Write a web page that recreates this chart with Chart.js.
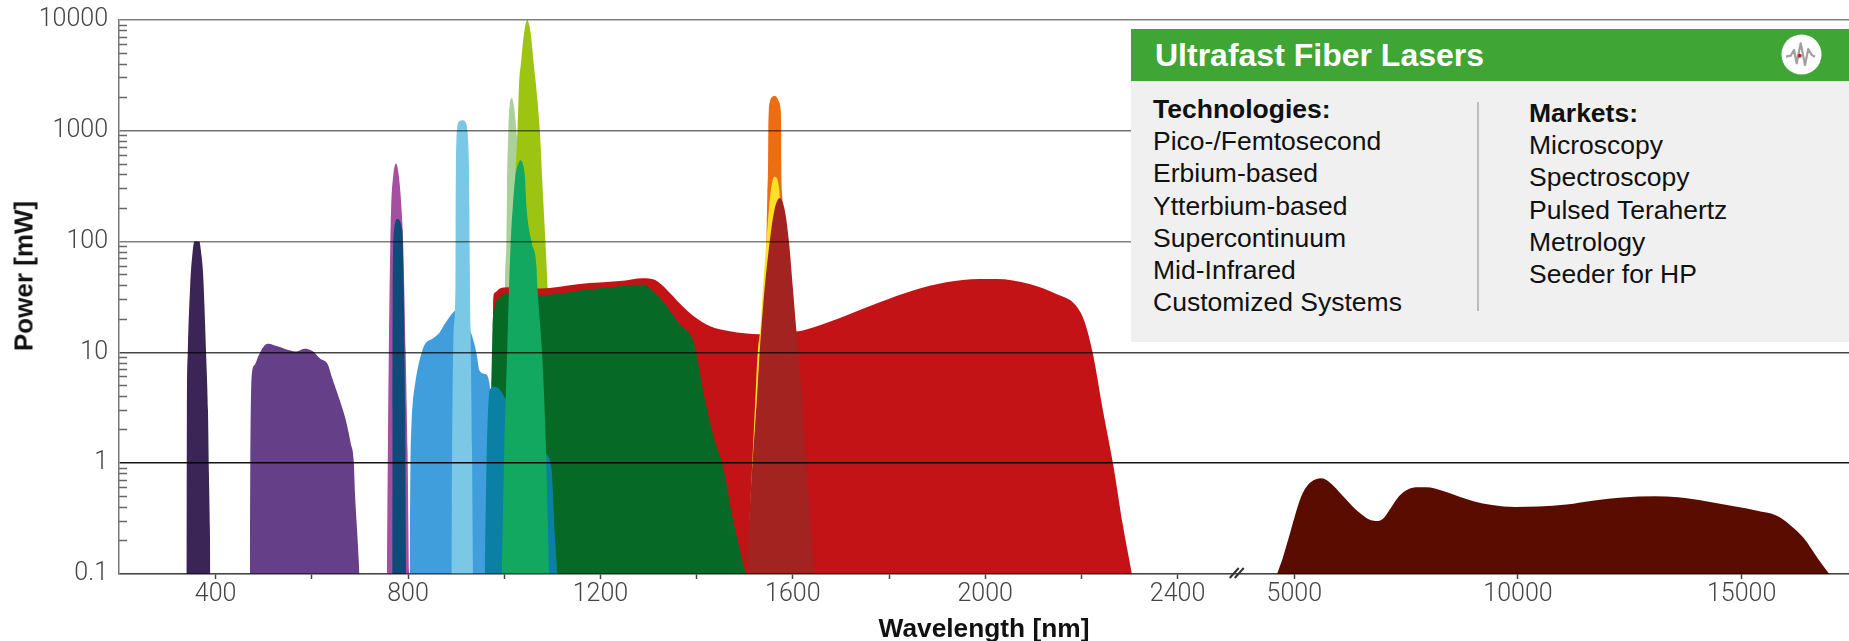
<!DOCTYPE html>
<html>
<head>
<meta charset="utf-8">
<title>Ultrafast Fiber Lasers</title>
<script src="https://cdn.jsdelivr.net/npm/chart.js@4"></script>
<style>
  html, body { margin: 0; padding: 0; background: #fff; overflow: hidden; }
  body { width: 1849px; height: 641px; position: relative; font-family: "Liberation Sans", Arial, sans-serif; }
  canvas { position: absolute; left: 0; top: 0; }
  #yTitle { position: absolute; left: 24px; top: 276px; transform: translate(-50%, -50%) rotate(-90deg);
    font-size: 26px; font-weight: bold; color: #111; white-space: nowrap; }
  #box { position: absolute; left: 1131px; top: 29px; width: 718px; height: 313px; background: #f0f0f0; }
  #head { position: absolute; left: 0; top: 0; width: 100%; height: 52px; background: #3fa535; }
  #head span { position: absolute; left: 24px; top: 8px; font-size: 32px; line-height: 36px; font-weight: bold; color: #fff; white-space: nowrap; }
  #icon { position: absolute; left: 650px; top: 5px; width: 41px; height: 41px; }
  .col { position: absolute; font-size: 26.5px; line-height: 32.2px; color: #111; white-space: nowrap; }
  .col b { display: block; }
  #divider { position: absolute; left: 346px; top: 73px; width: 1.5px; height: 209px; background: #bdbdbd; }
</style>
</head>
<body>
<canvas id="chart" width="1849" height="641"></canvas>
<div id="yTitle">Power [mW]</div>
<div id="box">
  <div id="head">
    <span>Ultrafast Fiber Lasers</span>
    <svg id="icon" viewBox="0 0 41 41">
      <circle cx="20.5" cy="20.5" r="20" fill="#fff"/>
      <polyline points="5,22.7 9.7,21.7 13,16 15.7,29.3 19.7,9.3 24,31 27.3,15 30.7,21 34,22.7" fill="none" stroke="#a0a0a0" stroke-width="2.2" stroke-linejoin="round"/>
      <circle cx="18.7" cy="21.7" r="2" fill="#d2143a"/>
    </svg>
  </div>
  <div class="col" id="techCol" style="left:22px;top:64px"></div>
  <div id="divider"></div>
  <div class="col" id="marketCol" style="left:398px;top:68px"></div>
</div>
<script>
// each band is [wavelength nm, power mW]
const uvBand = [[339,0.1],[340,3],[342,10],[347,40],[352,80],[356,100],[366,100],[370,78],[374,50],[380,10],[384,3],[386,0.8],[388,0.25],[389,0.1]];
const visibleBand = [[471,0.1],[472,1],[475,6.2],[481,7.7],[490,9.5],[502,11.6],[510,12],[527,11.4],[543,10.8],[568,10.2],[584,10.8],[601,10.3],[617,8.8],[633,7.8],[642,5.9],[658,3.7],[670,2.5],[681,1.5],[687,1.05],[690,0.5],[694,0.25],[699,0.1]];
const magentaBand = [[756,0.1],[758,1.29],[760,10],[763,92],[765,212],[769,385],[775,506],[781,385],[786,212],[790,92],[795,10],[799,1.29],[802,0.1]];
const navyBand = [[767,0.1],[767.5,3.03],[768,38.8],[771,127],[777,160],[788,127],[791,38.8],[794,3.03],[796,0.1]];
const blueBand = [[803.5,0.1],[804,0.3],[805,1],[807,2.2],[810,3.6],[814,5],[821,7.5],[830,10.5],[834.7,11.8],[852,13.4],[866,15.2],[876,18],[895,23.3],[905,25],[932,14.6],[942,10],[949,6.8],[959.5,6.4],[970,5],[975,0.1]];
const lightBlueBand = [[890,0.1],[891.5,1.29],[895,16.6],[898.5,38.8],[899,200],[899.5,497],[900.5,800],[902,1050],[907,1220],[913,1245],[919,1200],[923,1050],[925,800],[926.5,497],[927.5,200],[928,92],[930,16.6],[933,1.29],[935,0.1]];
const tealBand = [[959.5,0.1],[963,0.92],[966.4,3.03],[970,4.63],[980,4.9],[990.6,4.63],[1001,3.9],[1087.7,1.2],[1098,0.92],[1105,0.236],[1110.6,0.1]];
const limeBand = [[1004.5,0.1],[1013,38.8],[1017,100],[1022,325],[1027.5,1000],[1031,2723],[1035,4166],[1039,6370],[1044,9000],[1048,10000],[1052,9000],[1057,6370],[1061,4166],[1065.5,2723],[1074,1000],[1079.5,325],[1085.6,100],[1090,38.8],[1095,7.08],[1102,0.1]];
const paleGreenBand = [[997.6,0.1],[1001.7,38.8],[1004.5,100],[1005.9,325],[1008.6,1000],[1010.7,1635],[1015.6,1972],[1020.4,1635],[1025.3,1000],[1032,325],[1042,0.1]];
const greenBand = [[994.8,0.1],[1000,1.29],[1006,10],[1010,38.8],[1013.5,100],[1018,212],[1023,385],[1028.8,500],[1033.7,541],[1039,497],[1043,385],[1046,212],[1056.5,100],[1067,59.3],[1069,38.8],[1078.6,10],[1087,1.29],[1091,0.236],[1093,0.1]];
const redBand = [[975,0.1],[976,5],[977,30],[980,34.6],[990.6,37.8],[1008,38.8],[1074,37.8],[1157,41.5],[1240,44],[1288.7,46.8],[1313,45.2],[1337,37.2],[1365,27.6],[1392.7,21.4],[1427,17.3],[1469,15.5],[1531,14.6],[1607,15.4],[1642,16.8],[1711,21.5],[1780.6,28.3],[1850,36.2],[1919,43],[1988,46],[2023,46],[2092,41.5],[2148,33.7],[2189,26.4],[2207,18.7],[2224,9.65],[2245,2.96],[2266,0.98],[2286,0.28],[2305,0.1]];
const darkGreenBand = [[960,0.1],[965,1.3],[970,3.5],[973,5],[975.6,16.6],[980,25.4],[990.6,31.3],[1008,34.6],[1074,32.8],[1157,36.2],[1240,39.6],[1288.7,41],[1313,34.6],[1337,26.4],[1365,18],[1392.7,12.8],[1399,10],[1413,4.63],[1434,1.82],[1455,0.92],[1476,0.305],[1502,0.1]];
const orangeBand = [[1525,0.1],[1545,100],[1547,273],[1548.5,497],[1549,1000],[1550,1500],[1552,1800],[1557,2020],[1562,2058],[1567,2000],[1572,1800],[1575,1500],[1575.8,1000],[1576,497],[1577.6,273],[1583,100],[1610,0.1]];
const yellowBand = [[1505,0.1],[1523,4.63],[1527,10],[1532.6,16.6],[1538,38.8],[1545,100],[1553.5,273],[1562,385],[1570.7,325],[1576,178],[1583,100],[1620,0.1]];
const brownBand = [[1503,0.1],[1516,0.98],[1525.6,4],[1531,10],[1536.6,21.4],[1541.6,38.8],[1552,100],[1562,195],[1572.8,248],[1583,195],[1592,100],[1600,38.8],[1607,16.6],[1612,10],[1628,1],[1645,0.1]];
const midIrBand = [[4615,0.1],[4740,0.139],[4896,0.227],[5000,0.32],[5156,0.503],[5312,0.641],[5468,0.712],[5603,0.732],[5728,0.702],[5884,0.62],[6092,0.503],[6300,0.409],[6508,0.344],[6716,0.305],[6841,0.301],[6976,0.314],[7132,0.381],[7340,0.503],[7548,0.582],[7756,0.607],[7964,0.607],[8276,0.571],[8588,0.517],[9004,0.454],[9420,0.42],[9940,0.403],[10460,0.406],[11084,0.423],[11708,0.46],[12332,0.49],[13060,0.503],[13580,0.493],[14204,0.454],[14828,0.409],[15348,0.373],[15764,0.339],[16076,0.279],[16388,0.211],[16700,0.139],[16960,0.1]];

const yTicks = [0.1, 1, 10, 100, 1000, 10000];
const yMinorTicks = [0.2,0.3,0.4,0.5,0.6,0.7,0.8,0.9,2,3,4,5,6,7,8,9,20,30,40,50,60,70,80,90,200,300,400,500,600,700,800,900,2000,3000,4000,5000,6000,7000,8000,9000];
const gridColors = ["rgba(0,0,0,0.5)", "rgba(0,0,0,0.92)", "rgba(0,0,0,0.72)", "rgba(0,0,0,0.5)", "rgba(0,0,0,0.55)", "rgba(0,0,0,0.5)"];
const nearTicks = [400, 600, 800, 1000, 1200, 1400, 1600, 1800, 2000, 2200, 2400];
const nearLabels = [400, 800, 1200, 1600, 2000, 2400];
const farTicks = [5000, 10000, 15000];
const axisBreakNm = 2523;

const technologies = ["Pico-/Femtosecond", "Erbium-based", "Ytterbium-based", "Supercontinuum", "Mid-Infrared", "Customized Systems"];
const markets = ["Microscopy", "Spectroscopy", "Pulsed Terahertz", "Metrology", "Seeder for HP"];

function fillCol(id, title, rows) {
  document.getElementById(id).innerHTML = "<b>" + title + "</b>" + rows.join("<br>");
}
fillCol("techCol", "Technologies:", technologies);
fillCol("marketCol", "Markets:", markets);

function band(data, color, xAxisID) {
  return {
    data: data,
    xAxisID: xAxisID || "x",
    yAxisID: "y",
    backgroundColor: color,
    borderWidth: 0,
    pointRadius: 0,
    fill: "start",
    cubicInterpolationMode: "monotone"
  };
}

const tickFont = { family: "Roboto", size: 25, weight: "300" };

// the // mark on the wavelength axis
const axisBreak = {
  id: "axisBreak",
  afterDraw(chart) {
    const ctx = chart.ctx;
    const x = chart.scales.x.getPixelForValue(axisBreakNm);
    const y = chart.scales.y.getPixelForValue(0.1);
    ctx.save();
    ctx.strokeStyle = "#333";
    ctx.lineWidth = 2;
    [-2, 3].forEach(function(d) {
      ctx.beginPath();
      ctx.moveTo(x + d - 5, y + 4);
      ctx.lineTo(x + d + 4, y - 6);
      ctx.stroke();
    });
    ctx.restore();
  }
};

// first in the list is painted on top
new Chart(document.getElementById("chart"), {
  type: "line",
  data: {
    datasets: [
      band(brownBand, "#a2231f"),
      band(yellowBand, "#fbe026"),
      band(orangeBand, "#ec6d12"),
      band(greenBand, "#12a85f"),
      band(tealBand, "#0a81a4"),
      band(lightBlueBand, "#7ac7e6"),
      band(blueBand, "#419edd"),
      band(darkGreenBand, "#076926"),
      band(redBand, "#c41316"),
      band(limeBand, "#9ec412"),
      band(paleGreenBand, "#acd09a"),
      band(navyBand, "#0f4a78"),
      band(magentaBand, "#a44f9f"),
      band(visibleBand, "#653f88"),
      band(uvBand, "#3b2557"),
      band(midIrBand, "#5a0c00", "xFar")
    ]
  },
  plugins: [axisBreak],
  options: {
    responsive: false,
    animation: false,
    layout: { padding: { left: 0, right: 0, top: 20, bottom: 0 } },
    plugins: { legend: { display: false }, tooltip: { enabled: false } },
    scales: {
      x: {
        type: "linear",
        position: "bottom",
        min: 199,
        max: 3796,
        afterBuildTicks(scale) { scale.ticks = nearTicks.map(v => ({ value: v })); },
        afterFit(scale) { scale.height = 67; scale.paddingLeft = 0; scale.paddingRight = 0; },
        ticks: {
          autoSkip: false,
          maxRotation: 0,
          padding: 1,
          color: "#444",
          font: tickFont,
          callback: v => (nearLabels.includes(v) ? String(v) : "")
        },
        grid: { drawOnChartArea: false, tickLength: 5, tickColor: "#444", tickWidth: 1.5 },
        border: { color: "#8a8a8a", width: 1.5 },
        title: { display: true, text: "Wavelength [nm]", color: "#111", padding: { top: 0, bottom: -2 },
          font: { family: "Liberation Sans", size: 26.3, weight: "bold", lineHeight: 1 } }
      },
      xFar: {
        type: "linear",
        axis: "x",
        position: { y: 0.1 },
        min: -21275,
        max: 17401,
        afterBuildTicks(scale) { scale.ticks = farTicks.map(v => ({ value: v })); },
        afterFit(scale) { scale.paddingLeft = 0; scale.paddingRight = 0; },
        ticks: { autoSkip: false, maxRotation: 0, padding: 1, color: "#444", font: tickFont, callback: v => String(v) },
        grid: { drawOnChartArea: false, tickLength: 5, tickColor: "#444", tickWidth: 1.5 },
        border: { display: false }
      },
      y: {
        type: "logarithmic",
        position: "left",
        min: 0.1,
        max: 10000,
        afterBuildTicks(scale) { scale.ticks = yTicks.map(v => ({ value: v })); },
        afterFit(scale) { scale.width = 119; scale.paddingTop = 0; scale.paddingBottom = 0; },
        ticks: { padding: 11, color: "#444", font: tickFont, callback: v => String(v) },
        grid: {
          z: 1,
          drawTicks: false,
          lineWidth: 1.5,
          color: ctx => gridColors[yTicks.indexOf(ctx.tick.value)]
        },
        // z above the grid: the border needs the grid's position worked out first
        border: { display: true, color: "#777", width: 1.5, z: 2 }
      },
      // minor ticks, pointing into the plot
      yMinor: {
        type: "logarithmic",
        axis: "y",
        position: "left",
        weight: -1,
        min: 0.1,
        max: 10000,
        afterBuildTicks(scale) { scale.ticks = yMinorTicks.map(v => ({ value: v })); },
        afterFit(scale) { scale.width = 0; scale.paddingTop = 0; scale.paddingBottom = 0; },
        ticks: { display: false },
        grid: { drawOnChartArea: false, tickLength: -8, tickColor: "#666", tickWidth: 1.5 },
        border: { display: false }
      }
    }
  }
});
</script>
</body>
</html>
